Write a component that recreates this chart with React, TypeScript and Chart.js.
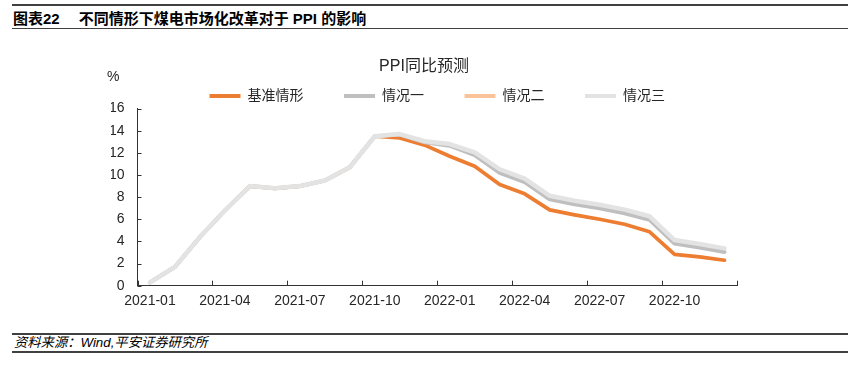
import React, { useEffect, useRef } from 'react';
import { Chart, registerables } from 'chart.js';

Chart.register(...registerables);

const FONT = '"Liberation Sans", Arial, "Noto Sans CJK SC", sans-serif';

const months = [
  '2021-01', '2021-02', '2021-03', '2021-04', '2021-05', '2021-06',
  '2021-07', '2021-08', '2021-09', '2021-10', '2021-11', '2021-12',
  '2022-01', '2022-02', '2022-03', '2022-04', '2022-05', '2022-06',
  '2022-07', '2022-08', '2022-09', '2022-10', '2022-11', '2022-12',
];

const seriesNames = ['基准情形', '情况一', '情况二', '情况三'];

const baseCase = [0.3, 1.7, 4.4, 6.8, 9.0, 8.8, 9.0, 9.5, 10.7, 13.5, 13.35, 12.7, 11.7, 10.8, 9.15, 8.3, 6.85, 6.4, 6.0, 5.55, 4.87, 2.83, 2.6, 2.3];
const scenario1 = [0.3, 1.7, 4.4, 6.8, 9.0, 8.8, 9.0, 9.5, 10.7, 13.5, 13.65, 12.95, 12.65, 11.8, 10.2, 9.35, 7.8, 7.35, 7.0, 6.55, 5.95, 3.8, 3.45, 3.05];
const scenario2 = [0.3, 1.7, 4.4, 6.8, 9.0, 8.8, 9.0, 9.5, 10.7, 13.5, 13.67, 13.0, 12.73, 11.92, 10.36, 9.51, 7.96, 7.51, 7.16, 6.71, 6.11, 3.96, 3.61, 3.21];
const scenario3 = [0.3, 1.7, 4.4, 6.8, 9.0, 8.8, 9.0, 9.5, 10.7, 13.5, 13.7, 13.05, 12.8, 12.05, 10.52, 9.67, 8.12, 7.67, 7.32, 6.87, 6.27, 4.12, 3.77, 3.37];

const seriesColors = ['#ED7D31', '#BFBFBF', '#F9C49A', '#E3E3E3'];
const seriesWidths = [3.7, 4, 3, 4.5];
const seriesOrder = [3, 1, 2, 0];

const yMin = 0;
const yMax = 16;
const yStep = 2;
const labelEvery = 3;

const AXIS_COLOR = '#333333';
const TEXT_COLOR = '#262626';

const inwardTicks = {
  id: 'inwardTicks',
  afterDatasetsDraw(chart: any) {
    const { ctx, chartArea } = chart;
    const xs = chart.scales.x;
    const ys = chart.scales.y;
    ctx.save();
    ctx.strokeStyle = AXIS_COLOR;
    ctx.lineWidth = 1;
    ctx.beginPath();
    ys.ticks.forEach((t: any) => {
      const py = Math.round(ys.getPixelForValue(t.value)) + 0.5;
      ctx.moveTo(chartArea.left, py);
      ctx.lineTo(chartArea.left + 4, py);
    });
    const w = xs.getPixelForValue(1) - xs.getPixelForValue(0);
    const n = months.length;
    for (let i = 0; i <= n; i += labelEvery) {
      const edge = i < n ? xs.getPixelForValue(i) - w / 2 : xs.getPixelForValue(n - 1) + w / 2;
      const px = Math.round(edge) + 0.5;
      ctx.moveTo(px, chartArea.bottom);
      ctx.lineTo(px, chartArea.bottom - 5);
    }
    ctx.stroke();
    ctx.restore();
  },
};

function PPIChart() {
  const ref = useRef<HTMLCanvasElement | null>(null);
  useEffect(() => {
    if (!ref.current) return;
    const allSeries = [baseCase, scenario1, scenario2, scenario3];
    const chart = new Chart(ref.current, {
      type: 'line',
      data: {
        labels: months,
        datasets: allSeries.map((d, i) => ({
          label: seriesNames[i],
          data: d,
          borderColor: seriesColors[i],
          backgroundColor: seriesColors[i],
          borderWidth: seriesWidths[i],
          pointRadius: 0,
          tension: 0,
          fill: false,
          order: seriesOrder[i],
          borderJoinStyle: 'round',
          borderCapStyle: 'round',
        })),
      },
      options: {
        responsive: false,
        maintainAspectRatio: false,
        animation: false,
        layout: { padding: { left: 111, right: 125, top: 0, bottom: 12.3 } },
        plugins: {
          title: {
            display: true,
            text: 'PPI同比预测',
            color: TEXT_COLOR,
            font: { family: FONT, size: 16, weight: 'normal' },
            padding: { top: 17.4, bottom: -28.1 },
          },
          legend: {
            display: true,
            position: 'top',
            fullSize: false,
            maxHeight: 60.1,
            labels: {
              boxWidth: 31,
              boxHeight: 4,
              padding: 40.5,
              color: TEXT_COLOR,
              font: { family: FONT, size: 14 },
              sort: (a: any, b: any) => a.datasetIndex - b.datasetIndex,
              generateLabels: (c: any) =>
                (Chart.defaults.plugins.legend.labels.generateLabels as any)(c).map((l: any) => ({
                  ...l,
                  lineWidth: 0,
                  fillStyle: l.strokeStyle,
                })),
            },
          },
          tooltip: { enabled: false },
        },
        scales: {
          x: {
            type: 'category',
            offset: true,
            grid: { display: false, offset: true, drawTicks: false },
            border: { display: true, color: AXIS_COLOR, width: 1 },
            afterFit: (s: any) => { s.height = 22; },
            ticks: {
              autoSkip: false,
              maxRotation: 0,
              padding: 7,
              color: TEXT_COLOR,
              font: { family: FONT, size: 14 },
              callback: (_v: any, i: number) => (i % labelEvery === 0 ? months[i] : ''),
            },
          },
          y: {
            min: yMin,
            max: yMax,
            grid: { display: false, drawTicks: false },
            border: { display: true, color: AXIS_COLOR, width: 1 },
            afterFit: (s: any) => { s.width = 26.5; },
            ticks: {
              stepSize: yStep,
              padding: 13,
              color: TEXT_COLOR,
              font: { family: FONT, size: 14 },
            },
          },
        },
      },
      plugins: [inwardTicks],
    } as any);
    return () => chart.destroy();
  }, []);
  return (
    <canvas
      ref={ref}
      width={862}
      height={280}
      style={{ position: 'absolute', left: 0, top: 40, width: 862, height: 280 }}
    />
  );
}

const ruleStyle = (top: number, h: number): React.CSSProperties => ({
  position: 'absolute',
  left: 12,
  width: 836,
  top,
  height: h,
  background: '#404040',
});

export default function App() {
  return (
    <div
      style={{
        position: 'absolute',
        left: 0,
        top: 0,
        width: 862,
        height: 375,
        background: '#ffffff',
        fontFamily: FONT,
        overflow: 'hidden',
      }}
    >
      <div style={ruleStyle(3.5, 2.5)} />
      <div
        style={{
          position: 'absolute',
          left: 13,
          top: 10,
          lineHeight: '18px',
          fontSize: 15,
          fontWeight: 'bold',
          color: '#000',
          whiteSpace: 'nowrap',
        }}
      >
        <span>图表22</span>
        <span style={{ marginLeft: 19 }}>不同情形下煤电市场化改革对于 PPI 的影响</span>
      </div>
      <div style={ruleStyle(27.5, 1.5)} />
      <PPIChart />
      <div
        style={{
          position: 'absolute',
          left: 107,
          top: 67,
          fontSize: 14,
          lineHeight: '18px',
          color: TEXT_COLOR,
        }}
      >
        %
      </div>
      <div style={ruleStyle(333, 2)} />
      <div
        style={{
          position: 'absolute',
          left: 14,
          top: 334,
          fontSize: 13.3,
          lineHeight: '17px',
          fontStyle: 'italic',
          color: '#000',
          whiteSpace: 'nowrap',
        }}
      >
        资料来源：Wind,平安证券研究所
      </div>
      <div style={ruleStyle(351, 1.5)} />
    </div>
  );
}
